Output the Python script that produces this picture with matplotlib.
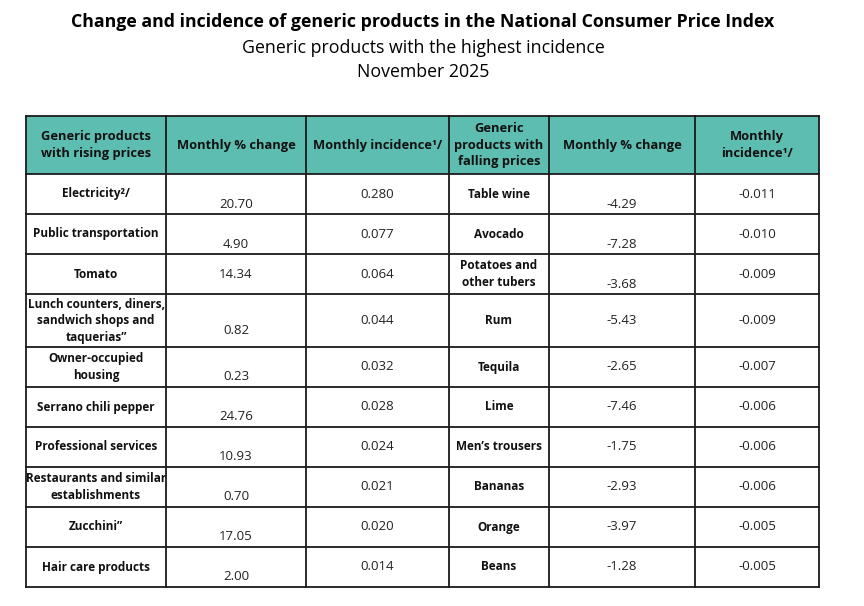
import matplotlib
matplotlib.use("Agg")
import matplotlib.pyplot as plt
from matplotlib.patches import Rectangle

plt.rcParams['font.family'] = ['Open Sans', 'DejaVu Sans']

title = "Change and incidence of generic products in the National Consumer Price Index"
subtitle = "Generic products with the highest incidence"
period = "November 2025"

headers = ["Generic products\nwith rising prices", "Monthly % change", "Monthly incidence¹/",
           "Generic\nproducts with\nfalling prices", "Monthly % change", "Monthly\nincidence¹/"]

rising_names = ["Electricity²/", "Public transportation", "Tomato",
                "Lunch counters, diners,\nsandwich shops and\ntaquerias”",
                "Owner-occupied\nhousing", "Serrano chili pepper", "Professional services",
                "Restaurants and similar\nestablishments", "Zucchini”", "Hair care products"]
rising_change = [20.70, 4.90, 14.34, 0.82, 0.23, 24.76, 10.93, 0.70, 17.05, 2.00]
rising_incid = [0.280, 0.077, 0.064, 0.044, 0.032, 0.028, 0.024, 0.021, 0.020, 0.014]

falling_names = ["Table wine", "Avocado", "Potatoes and\nother tubers", "Rum", "Tequila",
                 "Lime", "Men’s trousers", "Bananas", "Orange", "Beans"]
falling_change = [-4.29, -7.28, -3.68, -5.43, -2.65, -7.46, -1.75, -2.93, -3.97, -1.28]
falling_incid = [-0.011, -0.010, -0.009, -0.009, -0.007, -0.006, -0.006, -0.006, -0.005, -0.005]

# layout (pixels)
col_x = [26, 166, 306, 449, 549, 695, 819]
row_y = [116, 174, 214, 254, 294, 347, 387, 427, 467, 507, 547, 587]
# % change cells that sit low in their cell, as in the source
rise_low = [True, True, False, True, True, True, True, True, True, True]
fall_low = [True, True, True, False, False, False, False, False, False, False]

head_color = "#5ebdb1"
line_color = "#1a1a1a"

fig = plt.figure(figsize=(8.64, 6.06), dpi=100)
ax = fig.add_axes([0, 0, 1, 1])
ax.set_xlim(0, 864)
ax.set_ylim(606, 0)
ax.axis("off")

ax.text(423, 22, title, ha="center", va="center", fontsize=12.8, fontweight="bold", color="black")
ax.text(423, 48, subtitle, ha="center", va="center", fontsize=12.8, color="black")
ax.text(423, 72, period, ha="center", va="center", fontsize=12.8, color="black")

# header background
ax.add_patch(Rectangle((col_x[0], row_y[0]), col_x[-1] - col_x[0], row_y[1] - row_y[0],
                       facecolor=head_color, edgecolor="none"))

for j, h in enumerate(headers):
    cx = (col_x[j] + col_x[j + 1]) / 2
    cy = (row_y[0] + row_y[1]) / 2
    ax.text(cx, cy, h, ha="center", va="center", fontsize=9.3, fontweight="bold",
            color="#111111", linespacing=1.37)

for i in range(len(rising_names)):
    top, bot = row_y[i + 1], row_y[i + 2]
    cy = (top + bot) / 2
    cells = [rising_names[i], "%.2f" % rising_change[i], "%.3f" % rising_incid[i],
             falling_names[i], "%.2f" % falling_change[i], "%.3f" % falling_incid[i]]
    low = [False, rise_low[i], False, False, fall_low[i], False]
    for j, t in enumerate(cells):
        cx = (col_x[j] + col_x[j + 1]) / 2
        y = cy + 10 if low[j] else cy
        if j in (0, 3):
            ax.text(cx, y, t, ha="center", va="center", fontsize=8.5, fontweight="bold",
                    color="#111111", linespacing=1.35)
        else:
            ax.text(cx, y, t, ha="center", va="center", fontsize=9.5, color="#222222")

# grid lines
for x in col_x:
    ax.plot([x, x], [row_y[0], row_y[-1]], color=line_color, lw=1.3, solid_capstyle="projecting")
for y in row_y:
    ax.plot([col_x[0], col_x[-1]], [y, y], color=line_color, lw=1.3, solid_capstyle="projecting")

fig.savefig("out.png", dpi=100)
